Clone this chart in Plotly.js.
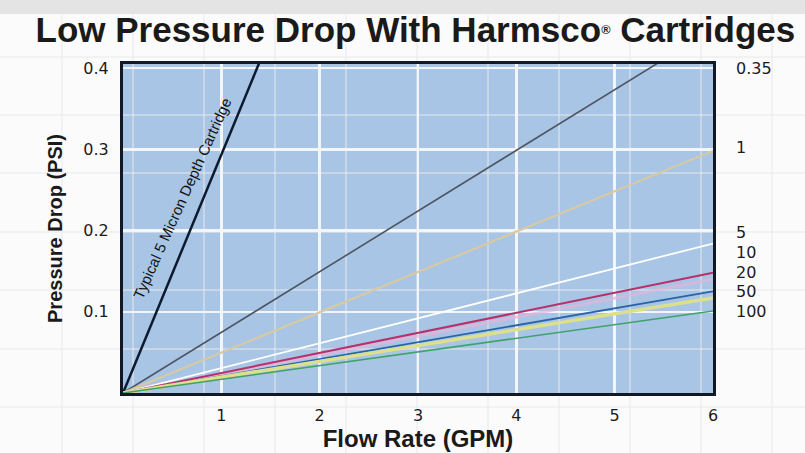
<!DOCTYPE html>
<html>
<head>
<meta charset="utf-8">
<script src="https://cdn.plot.ly/plotly-3.0.1.min.js"></script>
<style>html,body{margin:0;padding:0;background:#fbfbfb;}#chart{width:805px;height:453px;}</style>
</head>
<body>
<div id="chart"></div>
<script>
// Flow rate (GPM) endpoints for each line
const flowX = [0, 6];
// Series: name, pressure drop (PSI) at 0 and at 6 GPM
const seriesNames = ["Typical 5 Micron Depth", "0.35", "1", "5", "10", "20", "50", "100"];
const depthY = [0, 1.76];
const y035 = [0, 0.448];
const y1 = [0, 0.298];
const y5 = [0, 0.184];
const y10 = [0, 0.148];
const y20 = [0, 0.125];
const y50 = [0, 0.117];
const y100 = [0, 0.101];
const seriesY = [depthY, y035, y1, y5, y10, y20, y50, y100];
const seriesColors = ["#0d1a2e", "#4f5560", "#d6c9a3", "#ffffff", "#b8306a", "#2a64a8", "#dcdf8c", "#3fa266"];
const seriesWidths = [2.5, 1.6, 2.2, 1.8, 2, 1.8, 3.5, 1.6];
// Right-side micron labels and their y positions
const rightLabels = ["0.35", "1", "5", "10", "20", "50", "100"];
const rightLabelY = [0.399, 0.302, 0.198, 0.173, 0.148, 0.125, 0.100];
const xTicks = [1, 2, 3, 4, 5, 6];
const yTicks = [0.1, 0.2, 0.3, 0.4];

const traces = seriesY.map((ys, i) => ({
  x: flowX, y: ys, type: "scatter", mode: "lines", name: seriesNames[i],
  line: {color: seriesColors[i], width: seriesWidths[i]}, hoverinfo: "skip"
}));
// pink halo under the 10 line
traces.splice(4, 0, {x: flowX, y: [0, 0.140], type: "scatter", mode: "lines",
  line: {color: "rgba(230,180,215,0.7)", width: 3}, hoverinfo: "skip"});

const tickFont = {family: "DejaVu Sans, sans-serif", size: 16, color: "#1c1c1c"};
const annotations = rightLabels.map((t, i) => ({
  text: t, xref: "paper", yref: "y", x: 1.035, y: rightLabelY[i], xanchor: "left", yanchor: "middle",
  showarrow: false, font: tickFont
}));
annotations.push({
  text: "Typical 5 Micron Depth Cartridge", xref: "x", yref: "y", x: 0.60, y: 0.2395,
  showarrow: false, textangle: -65.8,
  font: {family: "Liberation Sans, Arial, sans-serif", size: 15, color: "#111"}
});

// faint background paper grid (pixel positions of the photographed sheet)
const L = 123, T = 64, W = 590, H = 329;
const bgShapes = [];
[62, 133, 204, 275, 346, 417, 488, 559, 630, 701, 772].forEach(px => bgShapes.push({
  type: "line", xref: "paper", yref: "paper", x0: (px - L) / W, x1: (px - L) / W, y0: -0.2, y1: 1.15,
  line: {color: "#e9e9e9", width: 1}, layer: "below"}));
[57, 115, 173, 232, 290, 349, 407].forEach(py => bgShapes.push({
  type: "line", xref: "paper", yref: "paper", y0: (T + H - py) / H, y1: (T + H - py) / H, x0: -0.21, x1: 1.16,
  line: {color: "#e9e9e9", width: 1}, layer: "below"}));
bgShapes.push({type: "rect", xref: "paper", yref: "paper", x0: -0.25, x1: 1.2, y0: (T + H - 14) / H, y1: 1.3,
  fillcolor: "#e4e4e4", line: {width: 0}, layer: "below"});

const layout = {
  width: 805, height: 453,
  margin: {l: L, r: 805 - L - W, t: T, b: 453 - T - H},
  paper_bgcolor: "#fbfbfb",
  plot_bgcolor: "#a8c5e6",
  showlegend: false,
  title: {text: "Low Pressure Drop With Harmsco<span style='font-size:18px'><sup>®</sup></span> Cartridges", x: 0.516, xanchor: "center", y: 0.935, yanchor: "middle",
    font: {family: "Liberation Sans, Arial, sans-serif", size: 35, color: "#1a1a1a", weight: "bold"}},
  xaxis: {
    range: [0, 6], tickvals: xTicks, ticktext: xTicks.map(String),
    showgrid: true, gridcolor: "#f2f6fb", gridwidth: 2.5, zeroline: false,
    showline: true, mirror: true, linecolor: "#121826", linewidth: 3,
    ticks: "outside", ticklen: 6, tickcolor: "rgba(0,0,0,0)",
    tickfont: tickFont,
    title: {text: "<b>Flow Rate (GPM)</b>", standoff: 4, font: {family: "Liberation Sans, Arial, sans-serif", size: 24, color: "#1a1a1a"}}
  },
  yaxis: {
    range: [0, 0.405], tickvals: yTicks, ticktext: yTicks.map(v => v.toFixed(1)),
    showgrid: true, gridcolor: "#f2f6fb", gridwidth: 2.5, zeroline: false,
    showline: true, mirror: true, linecolor: "#121826", linewidth: 3,
    ticks: "outside", ticklen: 8, tickcolor: "rgba(0,0,0,0)",
    tickfont: tickFont,
    title: {text: "<b>Pressure Drop (PSI)</b>", standoff: 16, font: {family: "Liberation Sans, Arial, sans-serif", size: 20, color: "#1a1a1a"}}
  },
  annotations: annotations,
  shapes: bgShapes
};

Plotly.newPlot("chart", traces, layout, {displayModeBar: false, staticPlot: true});
</script>
</body>
</html>
